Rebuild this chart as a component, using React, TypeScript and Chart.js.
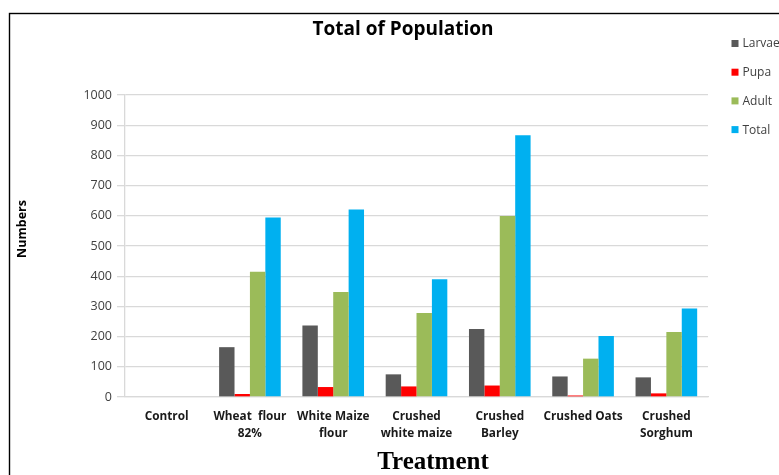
import React, { useEffect, useRef } from "react";
import { Chart, registerables } from "chart.js";

Chart.register(...registerables);

const chartTitle = "Total of Population";
const yTitle = "Numbers";
const xTitle = "Treatment";

const categories: (string | string[])[] = [
  "Control",
  ["Wheat  flour", "82%"],
  ["White Maize", "flour"],
  ["Crushed", "white maize"],
  ["Crushed", "Barley"],
  "Crushed Oats",
  ["Crushed", "Sorghum"],
];

const seriesNames = ["Larvae", "Pupa", "Adult", "Total"];
const seriesColors = ["#595959", "#FF0000", "#9BBB59", "#00B0F0"];

const larvae = [0, 165, 237, 75, 225, 68, 65];
const pupa = [0, 10, 33, 35, 38, 5, 12];
const adult = [0, 415, 348, 278, 599, 127, 215];
const total = [0, 594, 621, 390, 867, 202, 293];

const yMin = 0;
const yMax = 1000;
const yStep = 100;

const decorPlugin = {
  id: "decor",
  afterDraw(chart: any) {
    const ctx = chart.ctx as CanvasRenderingContext2D;
    ctx.save();
    // outer frame
    ctx.strokeStyle = "#000";
    ctx.lineWidth = 1.4;
    ctx.strokeRect(9.5, 13.5, 1000, 1000);

    // chart title
    ctx.fillStyle = "#000";
    ctx.font = "bold 19px 'Open Sans'";
    ctx.textAlign = "center";
    ctx.textBaseline = "middle";
    ctx.fillText(chartTitle, 403, 30);

    // x title
    ctx.font = "bold 25px 'Liberation Serif'";
    ctx.fillText(xTitle, 433, 463);

    // y title
    ctx.save();
    ctx.translate(22, 229);
    ctx.rotate(-Math.PI / 2);
    ctx.font = "bold 12.5px 'Open Sans'";
    ctx.fillText(yTitle, 0, 0);
    ctx.restore();

    // legend
    const ds = chart.data.datasets;
    ctx.textAlign = "left";
    ctx.font = "12px 'Open Sans'";
    ds.forEach((d: any, i: number) => {
      const cy = 43.5 + i * 28.7;
      ctx.fillStyle = d.backgroundColor;
      ctx.fillRect(731.5, cy - 3.5, 7, 7);
      ctx.fillStyle = "#404040";
      ctx.fillText(d.label, 742.5, cy + 0.5);
    });
    ctx.restore();
  },
};

export default function App() {
  const ref = useRef<HTMLCanvasElement | null>(null);

  useEffect(() => {
    if (!ref.current) return;
    const values = [larvae, pupa, adult, total];
    const chart = new Chart(ref.current, {
      type: "bar",
      data: {
        labels: categories,
        datasets: seriesNames.map((name, i) => ({
          label: name,
          data: values[i],
          backgroundColor: seriesColors[i],
          borderWidth: 0,
          categoryPercentage: 0.74,
          barPercentage: 1,
        })),
      },
      options: {
        responsive: false,
        animation: false,
        layout: { padding: { left: 10, top: 95, right: 71, bottom: 0 } },
        plugins: {
          legend: { display: false },
          title: { display: false },
          tooltip: { enabled: false },
        },
        scales: {
          x: {
            afterFit: (s: any) => {
              s.height = 78;
            },
            grid: { display: false, drawTicks: false },
            border: { display: true, color: "#D9D9D9", width: 1.3 },
            ticks: {
              color: "#1a1a1a",
              font: { family: "'Open Sans'", size: 11.8, weight: "bold", lineHeight: 1.42 },
              padding: 11,
              maxRotation: 0,
              autoSkip: false,
            },
          },
          y: {
            min: yMin,
            max: yMax,
            afterFit: (s: any) => {
              s.width = 115;
            },
            grid: { color: "#D9D9D9", lineWidth: 1.3, tickLength: 8, drawTicks: true },
            border: { display: true, color: "#D9D9D9", width: 1.3 },
            ticks: {
              stepSize: yStep,
              color: "#404040",
              font: { family: "'Open Sans'", size: 12.5 },
              padding: 5,
              callback: (v: any) => String(v),
            },
          },
        },
      },
      plugins: [decorPlugin],
    });
    return () => chart.destroy();
  }, []);

  return (
    <div style={{ position: "absolute", left: 0, top: 0, width: 779, height: 475, background: "#fff" }}>
      <canvas ref={ref} width={779} height={475} style={{ width: 779, height: 475 }} />
    </div>
  );
}
